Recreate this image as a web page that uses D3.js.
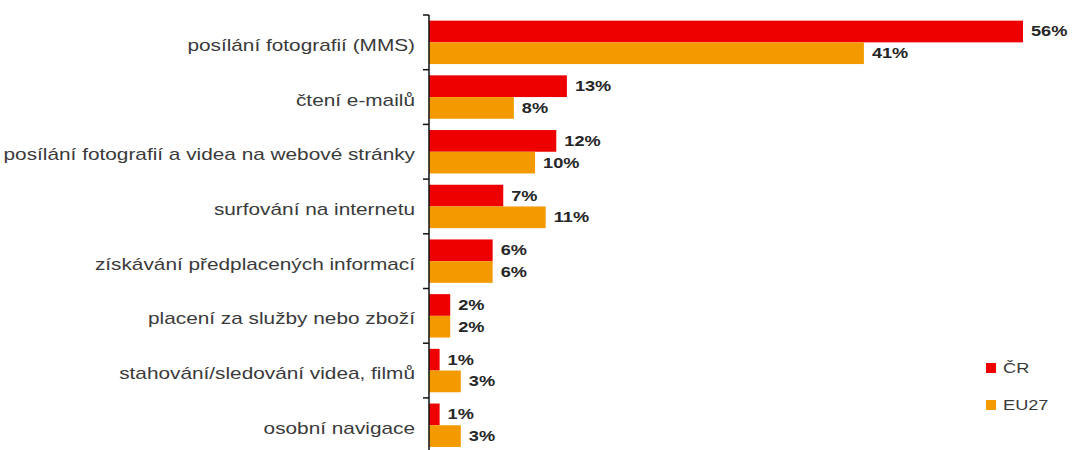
<!DOCTYPE html>
<html>
<head>
<meta charset="utf-8">
<script src="https://cdn.jsdelivr.net/npm/d3@7"></script>
<style>
  body { margin: 0; background: #fff; }
  text { font-family: Arial, "Liberation Sans", sans-serif; }
</style>
</head>
<body>
<svg id="chart" width="1072" height="450"></svg>
<script>
// Activities done on a mobile phone, share of respondents (%)
const categories = [
  "posílání fotografií (MMS)",
  "čtení e-mailů",
  "posílání fotografií a videa na webové stránky",
  "surfování na internetu",
  "získávání předplacených informací",
  "placení za služby nebo zboží",
  "stahování/sledování videa, filmů",
  "osobní navigace"
];
const seriesNames = ["ČR", "EU27"];
const crValues = [56, 13, 12, 7, 6, 2, 1, 1];
const euValues = [41, 8, 10, 11, 6, 2, 3, 3];
const seriesColors = ["#ee0000", "#f39a00"];

const svg = d3.select("#chart");
const stretch = 1.3; // horizontal text stretch

const x = d3.scaleLinear().domain([0, 56]).range([429, 1023]);
const y = d3.scaleBand().domain(categories).range([15, 452.6]).padding(0);
const ySub = d3.scaleBand().domain(seriesNames).range([0, y.bandwidth()])
  .paddingInner(0).paddingOuter(0.26);

const rows = categories.map((c, i) => ({
  cat: c,
  vals: [
    { s: seriesNames[0], v: crValues[i] },
    { s: seriesNames[1], v: euValues[i] }
  ]
}));

// bars
const groups = svg.append("g").selectAll("g").data(rows).join("g")
  .attr("transform", d => `translate(0,${y(d.cat)})`);

groups.selectAll("rect").data(d => d.vals).join("rect")
  .attr("x", x(0))
  .attr("y", d => ySub(d.s))
  .attr("width", d => x(d.v) - x(0))
  .attr("height", ySub.bandwidth())
  .attr("fill", (d, i) => seriesColors[i]);

// value labels
groups.selectAll("text.val").data(d => d.vals).join("text")
  .attr("class", "val")
  .attr("transform", d => `translate(${x(d.v) + 8},${ySub(d.s) + ySub.bandwidth() / 2}) scale(${stretch},1)`)
  .attr("dy", "0.35em")
  .attr("font-size", 14)
  .attr("font-weight", "bold")
  .attr("fill", "#262626")
  .text(d => d.v + "%");

// vertical axis with ticks at category boundaries
const axis = svg.append("g").attr("stroke", "#111").attr("stroke-width", 1.5);
axis.append("line")
  .attr("x1", x(0)).attr("x2", x(0))
  .attr("y1", y.range()[0]).attr("y2", y.range()[1]);
axis.selectAll("line.tick").data(categories).join("line")
  .attr("class", "tick")
  .attr("x1", x(0) - 6).attr("x2", x(0))
  .attr("y1", d => y(d)).attr("y2", d => y(d));

// category labels
svg.append("g").selectAll("text").data(categories).join("text")
  .attr("transform", d => `translate(415,${y(d) + y.bandwidth() / 2 + 3}) scale(${stretch},1)`)
  .attr("text-anchor", "end")
  .attr("dy", "0.35em")
  .attr("font-size", 16)
  .attr("fill", "#3a3a3a")
  .text(d => d);

// legend
const legend = svg.append("g").selectAll("g").data(seriesNames).join("g")
  .attr("transform", (d, i) => `translate(986,${363 + i * 37})`);
legend.append("rect")
  .attr("width", 10).attr("height", 10)
  .attr("fill", (d, i) => seriesColors[i]);
legend.append("text")
  .attr("transform", `translate(17,5) scale(${stretch},1)`)
  .attr("dy", "0.35em")
  .attr("font-size", 14)
  .attr("fill", "#3a3a3a")
  .text(d => d);
</script>
</body>
</html>
